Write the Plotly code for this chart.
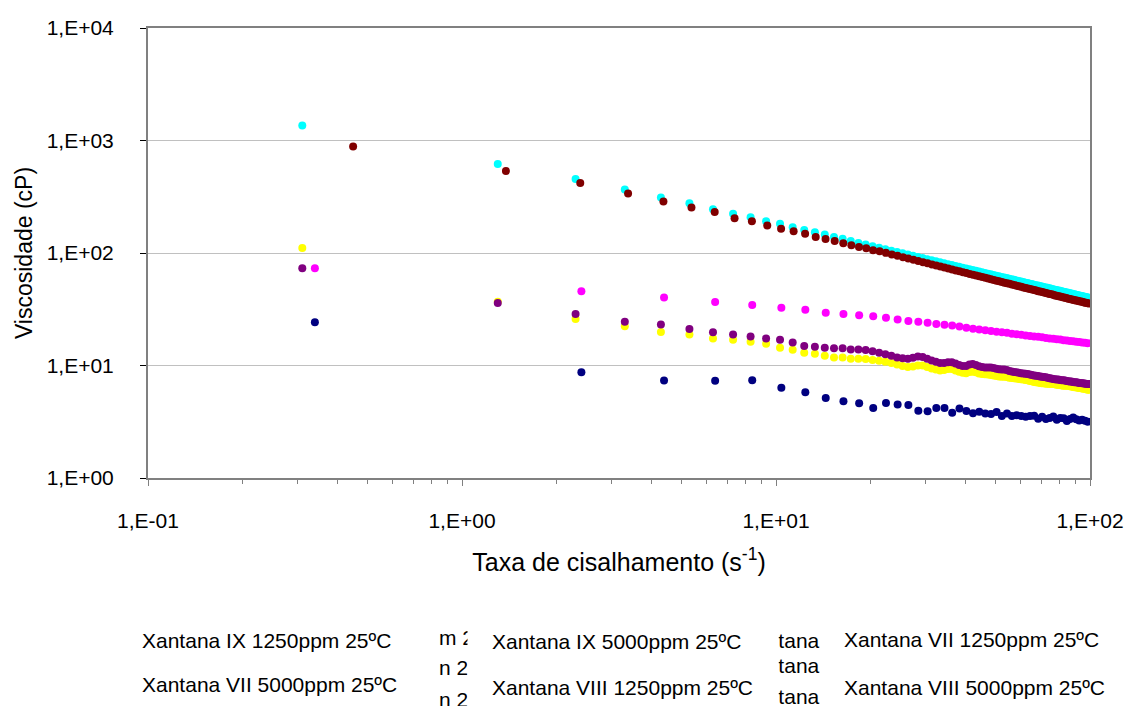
import plotly.graph_objects as go

# Shear-rate set points (s^-1)
rate_a = [0.31, 1.3, 2.3, 3.3, 4.3, 5.3, 6.3, 7.3, 8.3, 9.3, 10.3, 11.3, 12.3, 13.3, 14.3, 15.3, 16.3, 17.3,
          18.3, 19.3, 20.3, 21.3, 22.3, 23.3, 24.3, 25.3, 26.3, 27.3, 28.3, 29.3, 30.3, 31.3, 32.3, 33.3,
          34.3, 35.3, 36.3, 37.3, 38.3, 39.3, 40.3, 41.3, 42.3, 43.3, 44.3, 45.3, 46.3, 47.3, 48.3, 49.3,
          50.3, 51.3, 52.3, 53.3, 54.3, 55.3, 56.3, 57.3, 58.3, 59.3, 60.3, 61.3, 62.3, 63.3, 64.3, 65.3,
          66.3, 67.3, 68.3, 69.3, 70.3, 71.3, 72.3, 73.3, 74.3, 75.3, 76.3, 77.3, 78.3, 79.3, 80.3, 81.3,
          82.3, 83.3, 84.3, 85.3, 86.3, 87.3, 88.3, 89.3, 90.3, 91.3, 92.3, 93.3, 94.3, 95.3, 96.3, 97.3,
          98.3, 99.3]
rate_b = [0.45, 1.38, 2.38, 3.38, 4.38, 5.38, 6.38, 7.38, 8.38, 9.38, 10.38, 11.38, 12.38, 13.38, 14.38,
          15.38, 16.38, 17.38, 18.38, 19.38, 20.38, 21.38, 22.38, 23.38, 24.38, 25.38, 26.38, 27.38, 28.38,
          29.38, 30.38, 31.38, 32.38, 33.38, 34.38, 35.38, 36.38, 37.38, 38.38, 39.38, 40.38, 41.38, 42.38,
          43.38, 44.38, 45.38, 46.38, 47.38, 48.38, 49.38, 50.38, 51.38, 52.38, 53.38, 54.38, 55.38, 56.38,
          57.38, 58.38, 59.38, 60.38, 61.38, 62.38, 63.38, 64.38, 65.38, 66.38, 67.38, 68.38, 69.38, 70.38,
          71.38, 72.38, 73.38, 74.38, 75.38, 76.38, 77.38, 78.38, 79.38, 80.38, 81.38, 82.38, 83.38, 84.38,
          85.38, 86.38, 87.38, 88.38, 89.38, 90.38, 91.38, 92.38, 93.38, 94.38, 95.38, 96.38, 97.38, 98.38,
          99.38]
rate_c = [0.34, 2.4, 4.4, 6.4, 8.4, 10.4, 12.4, 14.4, 16.4, 18.4, 20.4, 22.4, 24.4, 26.4, 28.4, 30.4, 32.4,
          34.4, 36.4, 38.4, 40.4, 42.4, 44.4, 46.4, 48.4, 50.4, 52.4, 54.4, 56.4, 58.4, 60.4, 62.4, 64.4,
          66.4, 68.4, 70.4, 72.4, 74.4, 76.4, 78.4, 80.4, 82.4, 84.4, 86.4, 88.4, 90.4, 92.4, 94.4, 96.4,
          98.4]

# Viscosity (cP)
visc_ix_1250 = [24.2, 8.73, 7.37, 7.32, 7.41, 6.35, 5.77, 5.14, 4.80, 4.62, 4.19, 4.64, 4.49, 4.46, 3.97,
                3.92, 4.19, 4.19, 3.81, 4.14, 3.94, 3.76, 3.89, 3.74, 3.70, 3.86, 3.56, 3.74, 3.55, 3.62,
                3.55, 3.50, 3.55, 3.58, 3.37, 3.50, 3.35, 3.42, 3.52, 3.30, 3.42, 3.40, 3.21, 3.35, 3.45,
                3.33, 3.25, 3.30, 3.22, 3.17]
visc_ix_5000 = [73.2, 45.8, 40.2, 36.6, 34.5, 32.6, 31.3, 29.5, 28.7, 27.9, 27.4, 26.6, 25.7, 24.9, 24.5,
                24.0, 23.4, 23.0, 22.7, 22.2, 21.6, 21.2, 20.9, 20.6, 20.3, 20.0, 19.7, 19.5, 19.2, 19.0,
                18.8, 18.5, 18.3, 18.1, 18.0, 17.8, 17.6, 17.4, 17.3, 17.1, 17.0, 16.8, 16.7, 16.5, 16.4,
                16.3, 16.2, 16.0, 15.9, 15.8]
visc_vii_1250 = [111, 36.8, 25.9, 22.3, 19.9, 18.9, 17.4, 16.9, 16.3, 15.6, 14.4, 13.8, 13.0, 12.7, 12.2,
                 11.8, 11.8, 11.5, 11.5, 11.4, 11.2, 11.0, 10.8, 10.5, 10.2, 9.9, 9.7, 9.8, 10.0, 10.0,
                 9.7, 9.4, 9.2, 9.05, 9.1, 9.3, 9.3, 9.05, 8.8, 8.6, 8.55, 8.75, 8.8, 8.7, 8.5, 8.4, 8.35,
                 8.3, 8.25, 8.15, 8.05, 8.0, 7.95, 7.95, 7.9, 7.8, 7.75, 7.7, 7.65, 7.6, 7.55, 7.5, 7.45,
                 7.4, 7.3, 7.25, 7.15, 7.1, 7.05, 7.0, 6.95, 6.95, 6.9, 6.9, 6.85, 6.85, 6.85, 6.8, 6.75,
                 6.7, 6.7, 6.65, 6.6, 6.6, 6.6, 6.6, 6.55, 6.5, 6.45, 6.4, 6.4, 6.35, 6.3, 6.3, 6.25, 6.2,
                 6.2, 6.15, 6.1, 6.1]
visc_vii_5000 = [1358, 617, 454, 366, 311, 277, 245, 223, 208, 192, 182, 169, 160, 153, 146, 139, 134, 128,
                 123, 119, 115, 111.4, 108.1, 104.9, 102.0, 99.3, 96.8, 94.4, 92.2, 90.1, 88.1, 86.2, 84.4,
                 82.7, 81.1, 79.6, 78.1, 76.7, 75.4, 74.1, 72.9, 71.7, 70.6, 69.5, 68.4, 67.4, 66.5, 65.5,
                 64.6, 63.7, 62.9, 62.1, 61.3, 60.5, 59.8, 59.1, 58.3, 57.7, 57.0, 56.4, 55.7, 55.1, 54.5,
                 54.0, 53.4, 52.9, 52.3, 51.8, 51.3, 50.8, 50.3, 49.9, 49.4, 49.0, 48.5, 48.1, 47.7, 47.2,
                 46.8, 46.5, 46.1, 45.7, 45.3, 45.0, 44.6, 44.3, 43.9, 43.6, 43.3, 42.9, 42.6, 42.3, 42.0,
                 41.7, 41.4, 41.1, 40.8, 40.6, 40.3, 40.0]
visc_viii_1250 = [73.2, 35.9, 28.7, 24.5, 23.2, 21.1, 19.7, 18.9, 18.1, 17.4, 16.9, 16.0, 14.9, 14.7, 14.4,
                  14.2, 14.2, 13.9, 13.9, 13.7, 13.4, 13.0, 12.6, 12.2, 11.8, 11.6, 11.5, 11.7, 12.0, 11.9,
                  11.5, 11.1, 10.8, 10.5, 10.5, 10.7, 10.7, 10.4, 10.1, 9.9, 9.9, 10.2, 10.3, 10.1, 9.85,
                  9.7, 9.6, 9.6, 9.6, 9.5, 9.35, 9.25, 9.2, 9.2, 9.1, 8.95, 8.85, 8.75, 8.7, 8.6, 8.55, 8.5,
                  8.45, 8.4, 8.3, 8.25, 8.15, 8.1, 8.05, 8.0, 7.95, 7.9, 7.85, 7.8, 7.7, 7.65, 7.6, 7.55,
                  7.5, 7.5, 7.45, 7.4, 7.4, 7.35, 7.3, 7.25, 7.2, 7.2, 7.15, 7.1, 7.1, 7.05, 7.0, 7.0, 6.95,
                  6.95, 6.9, 6.9, 6.85, 6.85]
visc_viii_5000 = [885, 535, 419, 338, 287, 254, 231, 204, 192, 176, 164, 156, 148, 139, 133, 128, 122, 117,
                  113, 110, 106, 103.5, 100.3, 97.2, 94.5, 91.8, 89.3, 87.0, 84.9, 82.9, 81.0, 79.1, 77.4,
                  75.8, 74.2, 72.8, 71.3, 69.9, 68.7, 67.5, 66.3, 65.2, 64.1, 63.1, 62.0, 61.1, 60.2, 59.3,
                  58.4, 57.6, 56.8, 56.0, 55.3, 54.5, 53.9, 53.2, 52.4, 51.9, 51.2, 50.6, 50.0, 49.4, 48.8,
                  48.4, 47.8, 47.3, 46.8, 46.3, 45.8, 45.4, 44.9, 44.5, 44.1, 43.7, 43.2, 42.9, 42.5, 42.0,
                  41.7, 41.3, 41.0, 40.6, 40.2, 40.0, 39.6, 39.3, 39.0, 38.7, 38.5, 38.1, 37.8, 37.6, 37.3,
                  37.0, 36.8, 36.5, 36.2, 36.1, 35.8, 35.5]

series = [
    ("Xantana IX 1250ppm 25ºC", rate_c, visc_ix_1250, "#000080"),
    ("Xantana IX 5000ppm 25ºC", rate_c, visc_ix_5000, "#FF00FF"),
    ("Xantana VII 1250ppm 25ºC", rate_a, visc_vii_1250, "#FFFF00"),
    ("Xantana VII 5000ppm 25ºC", rate_a, visc_vii_5000, "#00FFFF"),
    ("Xantana VIII 1250ppm 25ºC", rate_a, visc_viii_1250, "#800080"),
    ("Xantana VIII 5000ppm 25ºC", rate_b, visc_viii_5000, "#800000"),
]

x_tick_vals = [0.1, 1, 10, 100]
x_tick_text = ["1,E-01", "1,E+00", "1,E+01", "1,E+02"]
y_tick_vals = [1, 10, 100, 1000, 10000]
y_tick_text = ["1,E+00", "1,E+01", "1,E+02", "1,E+03", "1,E+04"]
x_minor_vals = [m * d for d in (0.1, 1, 10) for m in range(2, 10)]

FONT = "Liberation Sans, Arial, sans-serif"
LEG_SIZE = 21

fig = go.Figure()
for name, xs, ys, color in series:
    fig.add_trace(go.Scatter(
        x=xs, y=ys, mode="markers", name=name, showlegend=False,
        marker=dict(color=color, size=8, line=dict(width=0)),
    ))

W, H = 1145, 706
L, R, T, B = 148, 1090, 28, 478


def px(xp):
    return (xp - L) / (R - L)


def py(yp):
    return (B - yp) / (B - T)


def text_note(txt, xp, yp, **extra):
    return dict(text=txt, x=px(xp), y=py(yp), xref="paper", yref="paper",
                xanchor="left", yanchor="middle", showarrow=False,
                font=dict(family=FONT, size=LEG_SIZE, color="black"), **extra)


# Legend block beneath the chart: three text columns, the middle one
# sitting on an opaque box that hides part of the entries behind it.
annotations = [
    text_note("Xantana IX 1250ppm 25ºC", 140, 640),
    text_note("Xantana VII 5000ppm 25ºC", 140, 684),
    text_note("m 2", 437, 637),
    text_note("n 2", 437, 667),
    text_note("n 2", 437, 699),
    text_note("Xantana", 739, 640),
    text_note("Xantana", 739, 665),
    text_note("Xantana", 739, 696),
    # opaque middle column box
    dict(text=" ", x=px(467), y=py(612), xref="paper", yref="paper",
         xanchor="left", yanchor="top", showarrow=False,
         width=310, height=110, bgcolor="white", borderpad=0,
         font=dict(family=FONT, size=LEG_SIZE)),
    text_note("Xantana IX 5000ppm 25ºC", 490, 641),
    text_note("Xantana VIII 1250ppm 25ºC", 490, 687),
    text_note("Xantana VII 1250ppm 25ºC", 842, 639),
    text_note("Xantana VIII 5000ppm 25ºC", 842, 687),
]

fig.update_layout(
    width=W, height=H,
    margin=dict(l=L, r=W - R, t=T, b=H - B),
    paper_bgcolor="white", plot_bgcolor="white",
    font=dict(family=FONT, size=20, color="black"),
    annotations=annotations,
    xaxis=dict(
        type="log", range=[-1, 2],
        tickvals=x_tick_vals, ticktext=x_tick_text,
        ticks="outside", ticklen=6, tickcolor="#808080", tickwidth=1,
        ticklabelstandoff=17,
        minor=dict(tickvals=x_minor_vals, ticks="outside", ticklen=4,
                   tickcolor="#808080", showgrid=False),
        showgrid=False, zeroline=False,
        showline=True, linecolor="#808080", linewidth=2, mirror=True,
        tickfont=dict(family=FONT, size=21),
        title=dict(text="Taxa de cisalhamento (s<sup>-1</sup>)", standoff=22,
                   font=dict(family=FONT, size=25)),
    ),
    yaxis=dict(
        type="log", range=[0, 4],
        tickvals=y_tick_vals, ticktext=y_tick_text,
        ticks="outside", ticklen=6, tickcolor="#000000",
        ticklabelstandoff=22,
        showgrid=True, gridcolor="#C0C0C0", gridwidth=1,
        zeroline=False,
        showline=True, linecolor="#808080", linewidth=2, mirror=True,
        tickfont=dict(family=FONT, size=21),
        title=dict(text="Viscosidade (cP)", standoff=8,
                   font=dict(family=FONT, size=23)),
    ),
)

fig.write_html("out.html")
